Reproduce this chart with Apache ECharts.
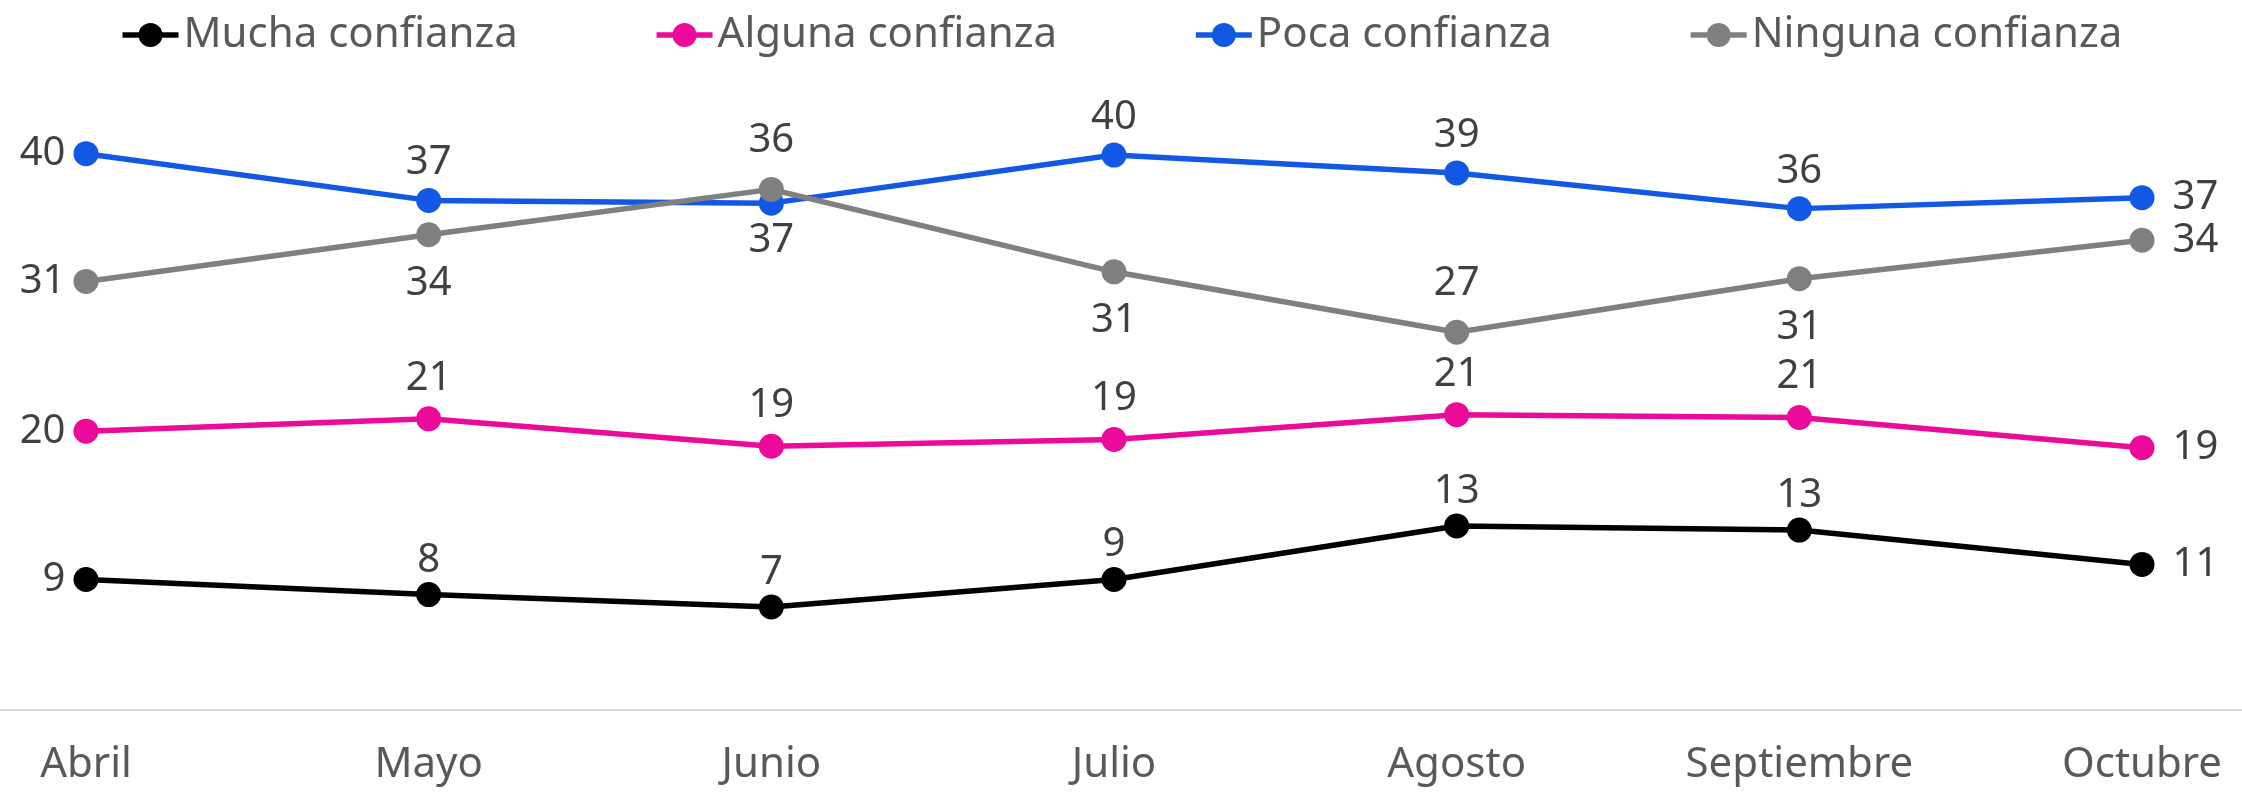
<!DOCTYPE html>
<html>
<head>
<meta charset="utf-8">
<title>Confianza</title>
<script src="https://cdn.jsdelivr.net/npm/echarts@6/dist/echarts.min.js"></script>
<style>
  html, body { margin: 0; padding: 0; background: #fff; }
  #chart { width: 2242px; height: 793px; }
</style>
</head>
<body>
<div id="chart"></div>
<script>
  // meses
  var months = ['Abril', 'Mayo', 'Junio', 'Julio', 'Agosto', 'Septiembre', 'Octubre'];

  var mucha   = [9.0, 7.9, 7.0, 9.0, 12.9, 12.6, 10.1];
  var alguna  = [19.8, 20.7, 18.7, 19.2, 21.0, 20.8, 18.6];
  var poca    = [40.0, 36.6, 36.4, 39.9, 38.6, 36.0, 36.8];
  var ninguna = [30.7, 34.1, 37.4, 31.4, 27.0, 30.9, 33.7];

  // etiquetas tal como aparecen
  var muchaLbl   = ['9', '8', '7', '9', '13', '13', '11'];
  var algunaLbl  = ['20', '21', '19', '19', '21', '21', '19'];
  var pocaLbl    = ['40', '37', '37', '40', '39', '36', '37'];
  var ningunaLbl = ['31', '34', '36', '31', '27', '31', '34'];

  var FONT = '"Noto Sans", "DejaVu Sans", sans-serif';

  // posicion de la etiqueta de cada punto (intermedios)
  var pocaPos    = ['top', 'bottom', 'top', 'top', 'top'];
  var ningunaPos = ['bottom', 'top', 'bottom', 'top', 'bottom'];

  function buildData(vals, lbls, midPos, dist) {
    return vals.map(function (v, i) {
      var pos, d = dist;
      if (i === 0) { pos = 'left'; d = 8; }
      else if (i === vals.length - 1) { pos = 'right'; d = 18; }
      else { pos = midPos ? midPos[i - 1] : 'top'; }
      return {
        value: v,
        label: { position: pos, distance: d, formatter: lbls[i] }
      };
    });
  }

  function mkSeries(name, color, vals, lbls, midPos, dist) {
    return {
      name: name,
      type: 'line',
      data: buildData(vals, lbls, midPos, dist),
      symbol: 'circle',
      symbolSize: 25,
      itemStyle: { color: color },
      lineStyle: { color: color, width: 5.5 },
      label: {
        show: true,
        color: '#404040',
        fontFamily: FONT,
        fontSize: 40
      },
      emphasis: { disabled: true },
      animation: false
    };
  }

  var chart = echarts.init(document.getElementById('chart'));
  chart.setOption({
    backgroundColor: '#fff',
    legend: {
      top: 9,
      left: 'center',
      itemWidth: 56,
      itemHeight: 30,
      itemGap: 136,
      lineStyle: { width: 5.5 },
      textStyle: { color: '#595959', fontFamily: FONT, fontSize: 42 },
      data: ['Mucha confianza', 'Alguna confianza', 'Poca confianza', 'Ninguna confianza']
    },
    grid: [
      { left: 86, right: 100, top: 85, bottom: 83 },
      // solo para la linea base que cruza todo el ancho
      { left: 0, right: 0, top: 85, bottom: 83 }
    ],
    xAxis: [
      {
        type: 'category',
        data: months,
        boundaryGap: false,
        axisLine: { show: false },
        axisTick: { show: false },
        axisLabel: { color: '#595959', fontFamily: FONT, fontSize: 42, margin: 34 }
      },
      {
        type: 'value',
        gridIndex: 1,
        min: 0,
        max: 1,
        axisLine: { show: true, lineStyle: { color: '#d9d9d9', width: 2 } },
        axisTick: { show: false },
        axisLabel: { show: false },
        splitLine: { show: false }
      }
    ],
    yAxis: [
      { type: 'value', min: -0.5, max: 45, show: false, splitLine: { show: false } },
      { type: 'value', gridIndex: 1, show: false, splitLine: { show: false } }
    ],
    series: [
      mkSeries('Mucha confianza', '#000000', mucha, muchaLbl, null, 2),
      mkSeries('Alguna confianza', '#ec0a9b', alguna, algunaLbl, null, 8),
      mkSeries('Poca confianza', '#1159e4', poca, pocaLbl, pocaPos, 5),
      mkSeries('Ninguna confianza', '#808080', ninguna, ningunaLbl, ningunaPos, 16)
    ]
  });
</script>
</body>
</html>
